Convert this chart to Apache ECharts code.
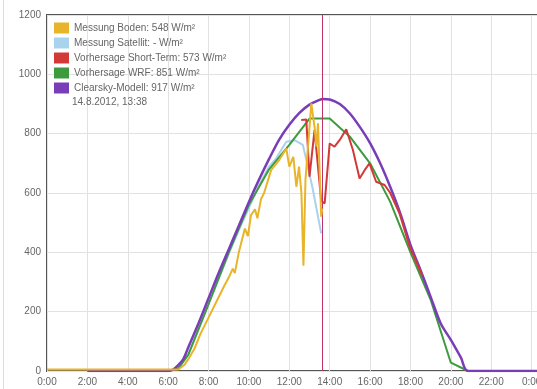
<!DOCTYPE html>
<html>
<head>
<meta charset="utf-8">
<script src="https://cdn.jsdelivr.net/npm/echarts@6/dist/echarts.min.js"></script>
<style>
  html, body { margin:0; padding:0; background:#fff; }
  #chart { width:537px; height:389px; }
</style>
</head>
<body>
<div id="chart"></div>
<script>
// Einstrahlung 14.8.2012 (Stunden, W/m²)
var yellowT = [0, 6.5, 6.8, 7.0, 7.3, 7.6, 8.0, 8.4, 8.8, 9.0, 9.2, 9.3, 9.5, 9.8, 9.95, 10.1, 10.3, 10.42, 10.6, 10.75, 11.1, 11.5, 11.85, 12.0, 12.2, 12.35, 12.48, 12.6, 12.7, 12.8, 13.09, 13.25, 13.34, 13.42, 13.58, 13.633];
var yellowV = [5, 5, 20, 40, 75, 125, 180, 235, 290, 315, 345, 330, 400, 480, 455, 525, 545, 515, 580, 600, 677, 711, 750, 689, 722, 621, 689, 600, 355, 644, 902, 823, 756, 835, 520, 548];

var blueT = [6, 6.5, 7, 7.5, 8, 8.5, 9, 9.5, 10, 10.5, 11, 11.35, 11.6, 11.85, 12.26, 12.67, 12.92, 13.17, 13.58];
var blueV = [0, 10, 55, 140, 225, 310, 395, 475, 550, 625, 690, 717, 745, 773, 778, 762, 689, 610, 464];

var redT = [12.59, 12.84, 13.0, 13.25, 13.42, 13.58, 13.75, 14.0, 14.24, 14.49, 14.82, 15.15, 15.48, 15.73, 15.97, 16.3, 16.72, 17.0, 17.46, 17.96, 18.46, 18.6];
var redV = [846, 848, 655, 812, 689, 573, 565, 767, 756, 778, 815, 745, 649, 677, 700, 638, 627, 600, 531, 419, 340, 320];

var greenT = [2, 6, 6.5, 7, 8, 9, 10, 11, 12, 13, 14, 15, 16, 17, 18, 19, 20, 20.85, 26];
var greenV = [0, 0, 8, 55, 225, 400, 560, 680, 762, 851, 851, 790, 700, 570, 400, 240, 28, 0, 0];

var purpleT = [2, 6, 6.25, 6.5, 6.75, 7, 7.5, 8, 8.5, 9, 9.5, 10, 10.5, 11, 11.5, 12, 12.5, 13, 13.5, 13.65, 14, 14.5, 15, 15.5, 16, 16.5, 17, 17.5, 18, 18.5, 19, 19.5, 20, 20.5, 20.85, 26];
var purpleV = [0, 0, 5, 20, 40, 80, 160, 245, 330, 410, 490, 570, 645, 715, 780, 830, 870, 898, 914, 917, 915, 900, 868, 822, 768, 700, 620, 530, 425, 340, 250, 160, 105, 45, 0, 0];

var names = ['Messung Boden: 548 W/m²', 'Messung Satellit: - W/m²', 'Vorhersage Short-Term: 573 W/m²', 'Vorhersage WRF: 851 W/m²', 'Clearsky-Modell: 917 W/m²'];
var colors = ['#e8b42a', '#a9d2ee', '#d23a3a', '#3d9b3d', '#7a3db8'];
var nowTime = 13.633;
var nowLabel = '14.8.2012, 13:38';

function pairs(t, v) {
  var out = [];
  for (var i = 0; i < t.length; i++) out.push([t[i], v[i]]);
  return out;
}

var font = 'Liberation Sans, Arial, sans-serif';
var chart = echarts.init(document.getElementById('chart'));
var option = {
  animation: false,
  color: colors,
  textStyle: { fontFamily: font },
  title: {
    text: nowLabel, left: 72, top: 97, padding: 0,
    textStyle: { fontSize: 10, fontWeight: 'normal', color: '#666', fontFamily: font }
  },
  legend: {
    orient: 'vertical', left: 54, top: 22, padding: 0,
    icon: 'rect', itemWidth: 15, itemHeight: 11, itemGap: 3,
    selectedMode: false,
    textStyle: { fontSize: 10, color: '#666', lineHeight: 12, fontFamily: font },
    data: names
  },
  grid: {
    left: 47, right: -35, top: 15, bottom: 18,
    outerBoundsMode: 'none', containLabel: false,
    show: true, borderColor: '#555', borderWidth: 2, backgroundColor: '#fff'
  },
  xAxis: {
    type: 'value', min: 0, max: 26, interval: 2,
    axisLine: { show: false }, axisTick: { show: false },
    axisLabel: {
      margin: 6, fontSize: 10, color: '#666', fontFamily: font,
      formatter: function (v) { return (v % 24) + ':00'; }
    },
    splitLine: { lineStyle: { color: '#e2e2e2', width: 1 } }
  },
  yAxis: {
    type: 'value', min: 0, max: 1200, interval: 200,
    axisLine: { show: false }, axisTick: { show: false },
    axisLabel: { margin: 6, fontSize: 10, color: '#666', fontFamily: font,
      formatter: function (v) { return String(v); } },
    splitLine: { lineStyle: { color: '#e2e2e2', width: 1 } }
  },
  graphic: [{
    type: 'line', shape: { x1: 3.5, y1: 0, x2: 3.5, y2: 389 },
    style: { stroke: '#dcdcdc', lineWidth: 1 }, silent: true
  }],
  series: [
    { name: names[0], type: 'line', z: 6, showSymbol: false, lineStyle: { width: 2 }, data: pairs(yellowT, yellowV) },
    { name: names[1], type: 'line', z: 2, showSymbol: false, lineStyle: { width: 2 }, data: pairs(blueT, blueV),
      markLine: {
        silent: true, symbol: ['none', 'none'], label: { show: false },
        lineStyle: { color: '#c2306a', width: 1, type: 'solid', opacity: 1 },
        emphasis: { disabled: true },
        data: [{ xAxis: nowTime, lineStyle: { color: '#c2306a' } }]
      }
    },
    { name: names[2], type: 'line', z: 5, showSymbol: false, lineStyle: { width: 2 }, data: pairs(redT, redV) },
    { name: names[3], type: 'line', z: 3, showSymbol: false, lineStyle: { width: 2 }, data: pairs(greenT, greenV) },
    { name: names[4], type: 'line', z: 4, showSymbol: false, smooth: 0.3, lineStyle: { width: 2.5 }, data: pairs(purpleT, purpleV) }
  ]
};
chart.setOption(option);
</script>
</body>
</html>
